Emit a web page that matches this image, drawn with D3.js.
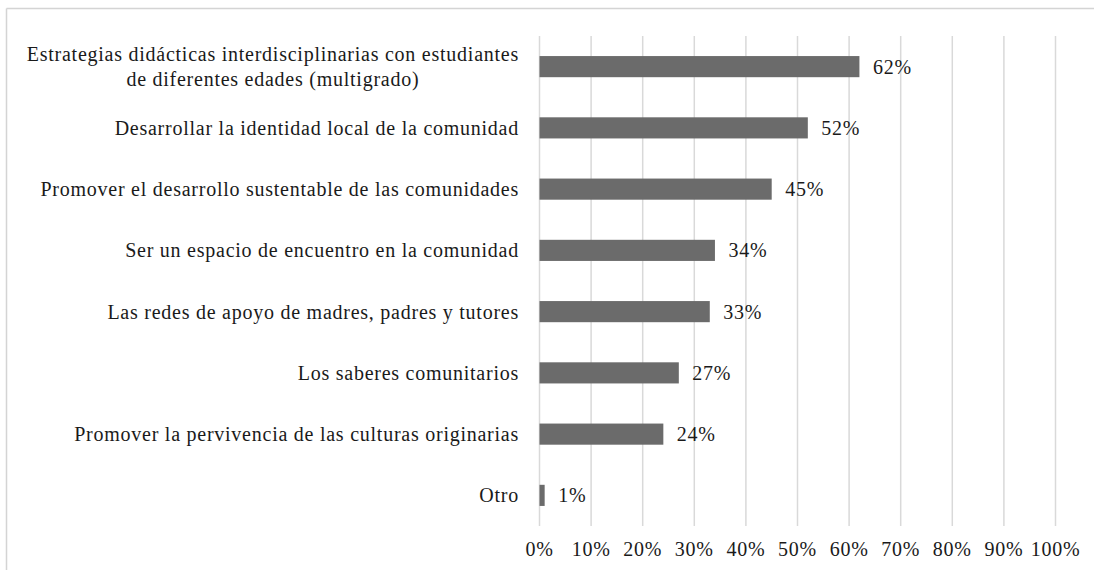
<!DOCTYPE html>
<html>
<head>
<meta charset="utf-8">
<script src="https://cdn.jsdelivr.net/npm/d3@7"></script>
<style>
html,body{margin:0;padding:0;background:#fff;}
svg{display:block;}
text{font-family:"Liberation Serif","DejaVu Serif",serif;fill:#1a1a1a;}
</style>
</head>
<body>
<svg id="chart" width="1094" height="570"></svg>
<script>
const categories = [
  ["Estrategias didácticas interdisciplinarias con estudiantes", "de diferentes edades (multigrado)"],
  ["Desarrollar la identidad local de la comunidad"],
  ["Promover el desarrollo sustentable de las comunidades"],
  ["Ser un espacio de encuentro en la comunidad"],
  ["Las redes de apoyo de madres, padres y tutores"],
  ["Los saberes comunitarios"],
  ["Promover la pervivencia de las culturas originarias"],
  ["Otro"]
];
const values = [62, 52, 45, 34, 33, 27, 24, 1];
const tickValues = [0,10,20,30,40,50,60,70,80,90,100];
const tickLabels = ["0%","10%","20%","30%","40%","50%","60%","70%","80%","90%","100%"];

const svg = d3.select("#chart");
const fs = 20;
const ls = "0.75px";

// outer border
svg.append("line").attr("x1",6.5).attr("x2",1094).attr("y1",8.5).attr("y2",8.5).attr("stroke","#d4d4d4").attr("stroke-width",1.5);
svg.append("line").attr("x1",6.5).attr("x2",6.5).attr("y1",8.5).attr("y2",570).attr("stroke","#d4d4d4").attr("stroke-width",1.5);

const x = d3.scaleLinear().domain([0,100]).range([539,1055]);
const y = d3.scaleBand().domain(d3.range(categories.length)).range([36,526]).paddingInner(0.655).paddingOuter(0.3275);

// gridlines
svg.append("g").selectAll("line").data(tickValues).join("line")
  .attr("x1",d=>x(d)+0.5).attr("x2",d=>x(d)+0.5)
  .attr("y1",36).attr("y2",526)
  .attr("stroke","#d9d9d9").attr("stroke-width",1.5);

// x tick labels
const xAxis = d3.axisBottom(x).tickValues(tickValues).tickSize(0).tickPadding(0)
  .tickFormat((d,i)=>tickLabels[i]);
const gx = svg.append("g").attr("transform","translate(0,543)").call(xAxis);
gx.select(".domain").remove();
gx.selectAll("text").attr("font-size",fs).attr("font-family","Liberation Serif, DejaVu Serif, serif")
  .attr("fill","#1a1a1a").attr("dy","0.35em").attr("y",6).style("letter-spacing",ls);

// bars
svg.append("g").selectAll("rect").data(values).join("rect")
  .attr("x",x(0)+0.5).attr("y",(d,i)=>y(i))
  .attr("width",d=>x(d)-x(0)).attr("height",y.bandwidth())
  .attr("fill","#6b6b6b");

// value labels
svg.append("g").selectAll("text").data(values).join("text")
  .attr("x",d=>x(d)+14).attr("y",(d,i)=>y(i)+y.bandwidth()/2)
  .attr("dy","0.35em").attr("font-size",fs).style("letter-spacing",ls)
  .text(d=>d+"%");

// category labels
const labelRight = 519;
const lineH = 25;
const lg = svg.append("g");
categories.forEach((lines,i)=>{
  const cy = y(i)+y.bandwidth()/2;
  const g = lg.append("g");
  const texts = lines.map((l,j)=> g.append("text")
    .attr("font-size",fs).style("letter-spacing",ls)
    .attr("y", cy + (j-(lines.length-1)/2)*lineH).attr("dy","0.35em").text(l));
  const widths = texts.map(t=>t.node().getComputedTextLength());
  const maxW = d3.max(widths);
  texts.forEach((t,j)=> t.attr("text-anchor","middle").attr("x", labelRight - maxW/2));
});
</script>
</body>
</html>
